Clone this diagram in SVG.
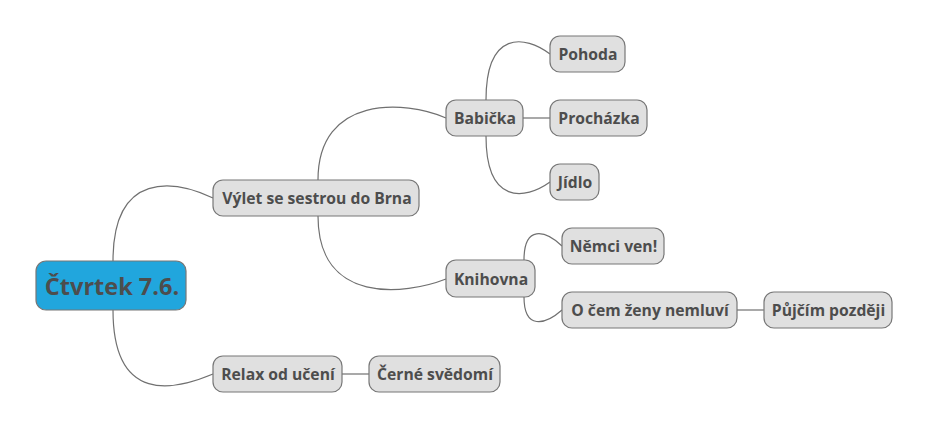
<svg xmlns="http://www.w3.org/2000/svg" width="930" height="431" viewBox="0 0 930 431">
<style>
.n rect{fill:#e0e0e0;stroke:#777;stroke-width:1.2}
.n text{font-family:"Open Sans","Liberation Sans",sans-serif;font-weight:bold;font-size:15.7px;fill:#4d4d4d;text-anchor:middle;dominant-baseline:central}
#root rect{fill:#21a6dd}
#root text{font-size:23.5px}
.c path,.c line{fill:none;stroke:#707070;stroke-width:1.2}
</style>
<rect width="930" height="431" fill="#fff"/>
<g class="c">
<path d="M113,261 C113,170 175,180 213,198"/>
<path d="M113,310 C113,405 175,390 213,374"/>
<path d="M318,180 C318,95 405,100 446,118"/>
<path d="M318,216 C318,305 405,295 446,279"/>
<line x1="342" y1="374" x2="369" y2="374"/>
<path d="M486,100 C486,30 525,35 550,54"/>
<line x1="523" y1="118" x2="550" y2="118"/>
<path d="M486,136 C486,205 525,200 550,182"/>
<path d="M524,260 C524,225 545,230 562,246"/>
<path d="M524,297 C524,330 545,325 562,310"/>
<line x1="737" y1="310" x2="764" y2="310"/>
</g>
<g id="root" class="n"><rect x="36" y="261" width="150" height="49" rx="10"/><text x="112" y="285.5">Čtvrtek 7.6.</text></g>
<g id="vylet" class="n"><rect x="213" y="180" width="206" height="36" rx="10"/><text x="317" y="198">Výlet se sestrou do Brna</text></g>
<g id="relax" class="n"><rect x="213" y="356" width="129" height="36" rx="10"/><text x="278" y="374">Relax od učení</text></g>
<g id="cerne" class="n"><rect x="369" y="356" width="131" height="36" rx="10"/><text x="435" y="374">Černé svědomí</text></g>
<g id="babicka" class="n"><rect x="446" y="100" width="77" height="36" rx="10"/><text x="485" y="118">Babička</text></g>
<g id="knihovna" class="n"><rect x="446" y="260" width="89" height="37" rx="10"/><text x="491" y="278.5">Knihovna</text></g>
<g id="pohoda" class="n"><rect x="550" y="36" width="75" height="36" rx="10"/><text x="588" y="54">Pohoda</text></g>
<g id="prochazka" class="n"><rect x="550" y="100" width="97" height="36" rx="10"/><text x="599" y="118">Procházka</text></g>
<g id="jidlo" class="n"><rect x="550" y="164" width="49" height="36" rx="10"/><text x="575" y="182">Jídlo</text></g>
<g id="nemci" class="n"><rect x="562" y="228" width="102" height="36" rx="10"/><text x="613.5" y="246">Němci ven!</text></g>
<g id="ocem" class="n"><rect x="562" y="292" width="175" height="36" rx="10"/><text x="650" y="310">O čem ženy nemluví</text></g>
<g id="pujcim" class="n"><rect x="764" y="292" width="128" height="36" rx="10"/><text x="828.5" y="310">Půjčím později</text></g>
</svg>
